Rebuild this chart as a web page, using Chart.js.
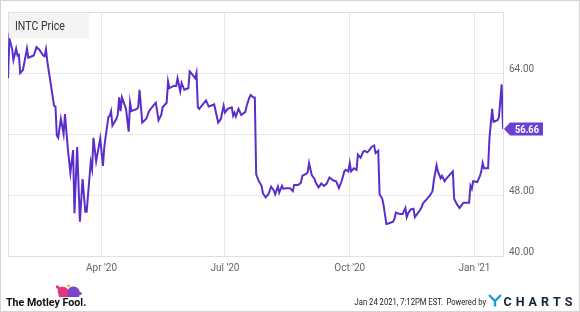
<!DOCTYPE html>
<html>
<head>
<meta charset="utf-8">
<script src="https://cdn.jsdelivr.net/npm/chart.js@4.4.0/dist/chart.umd.min.js"></script>
<style>
  html, body { margin: 0; padding: 0; background: #fff; }
  canvas { display: block; }
</style>
</head>
<body>
<canvas id="priceChart" width="580" height="312" style="width:580px;height:312px"></canvas>
<script>
// INTC closing price, days counted from 2020-01-22
const seriesName = 'INTC Price';
const days = [1, 2, 4, 5, 7, 8, 9, 10, 12, 15, 16, 20, 22, 24, 27, 28, 29, 30, 33, 35,
  36, 37, 38, 40, 42, 43, 45, 47, 49, 50, 52, 54, 56, 58, 59, 62, 63, 64, 66, 69,
  71, 72, 75, 76, 77, 78, 81, 82, 83, 84, 85, 88, 90, 91, 92, 96, 97, 98, 100, 103,
  105, 108, 110, 112, 114, 115, 118, 119, 120, 123, 125, 126, 128, 129, 131, 134, 135, 136, 139, 140,
  141, 142, 147, 149, 152, 153, 156, 158, 160, 161, 163, 166, 167, 168, 169, 171, 173, 176, 177, 179,
  180, 182, 183, 184, 186, 188, 189, 191, 193, 195, 197, 198, 200, 201, 203, 204, 206, 209, 211, 212,
  215, 217, 218, 221, 222, 223, 225, 227, 228, 230, 232, 234, 236, 238, 241, 243, 245, 247, 249, 250,
  252, 253, 254, 256, 258, 259, 261, 263, 264, 266, 268, 269, 271, 272, 274, 275, 277, 278, 280, 282,
  285, 286, 287, 290, 292, 294, 295, 296, 298, 300, 301, 303, 304, 306, 307, 309, 312, 314, 315, 317,
  318, 320, 321, 323, 324, 326, 328, 329, 330, 332, 334, 336, 337, 341, 342, 343, 344, 347, 349, 350,
  351, 352, 355, 356, 358, 359, 362, 363, 365, 366];
const prices = [63.3, 68.5, 67.2, 65.7, 67.2, 66.3, 66.4, 64.0, 64.4, 67.2, 66.0, 66.3, 67.4, 67.1, 66.3, 66.2, 67.1, 65.5, 62.0, 59.7,
  59.6, 55.8, 55.5, 58.0, 56.0, 58.6, 54.3, 50.9, 53.9, 45.6, 54.3, 44.5, 50.1, 45.8, 45.8, 52.3, 51.4, 55.5, 52.4, 55.4,
  51.8, 54.3, 58.2, 58.4, 59.0, 57.1, 58.0, 58.6, 60.8, 59.0, 60.8, 59.3, 56.3, 60.1, 59.0, 59.3, 59.5, 61.8, 57.5, 58.0,
  59.0, 59.7, 60.1, 57.8, 58.5, 59.5, 60.1, 62.9, 62.0, 62.3, 62.3, 63.3, 61.6, 62.7, 61.8, 62.0, 64.2, 64.0, 63.3, 64.0,
  59.5, 59.3, 60.4, 59.6, 59.8, 59.9, 57.5, 58.0, 59.7, 58.8, 59.3, 59.5, 58.4, 58.8, 58.3, 59.3, 58.5, 58.9, 59.7, 60.8,
  61.1, 60.8, 60.8, 50.7, 49.8, 49.2, 48.2, 47.7, 48.1, 49.1, 48.6, 48.1, 49.1, 48.3, 49.2, 48.8, 48.9, 48.9, 48.5, 49.3,
  49.3, 49.6, 50.5, 50.8, 51.0, 52.2, 50.6, 50.1, 49.6, 49.0, 49.5, 49.2, 49.5, 50.3, 49.9, 49.8, 48.9, 49.8, 51.1, 51.3,
  51.1, 52.2, 51.1, 51.5, 51.3, 53.3, 52.9, 53.7, 53.8, 53.6, 54.0, 54.3, 54.5, 53.5, 53.8, 48.1, 47.5, 46.6, 44.2, 44.3,
  44.5, 44.9, 45.7, 45.5, 45.5, 46.3, 45.1, 45.6, 46.1, 46.2, 45.1, 45.6, 45.8, 46.4, 46.9, 47.3, 47.9, 48.5, 49.9, 51.9,
  51.1, 50.2, 50.5, 49.8, 50.1, 50.5, 50.9, 51.1, 47.5, 46.8, 46.3, 46.8, 47.0, 47.0, 49.2, 48.8, 49.8, 49.7, 50.5, 51.1,
  52.2, 51.5, 51.5, 55.4, 59.3, 57.6, 57.8, 58.2, 62.5, 56.66];

const tickDays = [70, 161, 253, 345];
const tickLabels = ["Apr '20", "Jul '20", "Oct '20", "Jan '21"];
const yTicks = [40, 48, 56, 64, 72];
const yLabelsShown = [40, 48, 64];
const stampText = 'Jan 24 2021, 7:12PM EST.';

const fontFamily = "Roboto, 'Liberation Sans', sans-serif";
const lineColor = '#5b2ecc';
const tagColor = '#6a3fd2';
const gridColor = '#e8e8e8';

// draws text squeezed horizontally, like the narrow face in the original
function narrowText(ctx, text, x, y, font, squeeze, align) {
  ctx.save();
  ctx.font = font;
  ctx.textAlign = align || 'left';
  ctx.translate(x, y);
  ctx.scale(squeeze, 1);
  ctx.fillText(text, 0, 0);
  ctx.restore();
}

// background, outer border, plot frame, title box, price tag and footer
const decorations = {
  id: 'decorations',
  beforeDraw(chart) {
    const ctx = chart.ctx;
    ctx.save();
    ctx.fillStyle = '#fff';
    ctx.fillRect(0, 0, chart.width, chart.height);
    ctx.strokeStyle = '#d4d4d4';
    ctx.lineWidth = 1;
    ctx.strokeRect(0.5, 0.5, chart.width - 1, chart.height - 1);
    ctx.restore();
  },
  beforeDatasetsDraw(chart) {
    const { ctx, chartArea: a } = chart;
    ctx.save();
    ctx.strokeStyle = '#e0e0e0';
    ctx.lineWidth = 1;
    ctx.strokeRect(Math.round(a.left) + 0.5, Math.round(a.top) + 0.5, a.right - a.left, a.bottom - a.top);
    ctx.restore();
  },
  afterDraw(chart) {
    const { ctx, chartArea: a } = chart;
    ctx.save();

    // title box
    ctx.fillStyle = '#f4f4f4';
    ctx.fillRect(a.left + 1, a.top + 1, 80, 25);
    ctx.fillStyle = '#333';
    ctx.textBaseline = 'alphabetic';
    narrowText(ctx, seriesName, a.left + 7, a.top + 18, '12px ' + fontFamily, 0.88);

    // last price tag
    const last = prices[prices.length - 1];
    const y = chart.scales.y.getPixelForValue(last);
    const x = a.right + 1;
    ctx.fillStyle = tagColor;
    ctx.beginPath();
    ctx.moveTo(x, y);
    ctx.lineTo(x + 6, y - 6.5);
    ctx.lineTo(x + 39, y - 6.5);
    ctx.lineTo(x + 39, y + 6.5);
    ctx.lineTo(x + 6, y + 6.5);
    ctx.closePath();
    ctx.fill();
    ctx.fillStyle = '#fff';
    narrowText(ctx, last.toFixed(2), x + 23, y + 4, 'bold 11px ' + fontFamily, 0.85, 'center');

    // footer left: Motley Fool
    ctx.fillStyle = '#111';
    narrowText(ctx, 'The Motley Fool.', 6, 306, 'bold 11px ' + fontFamily, 0.97);
    ctx.fillStyle = '#e6357f';
    ctx.beginPath();
    ctx.moveTo(59, 297); ctx.quadraticCurveTo(57, 290, 58, 287.5);
    ctx.quadraticCurveTo(66, 285, 69, 291); ctx.lineTo(69, 297); ctx.closePath();
    ctx.fill();
    ctx.beginPath(); ctx.arc(57.5, 287, 1.7, 0, Math.PI * 2); ctx.fill();
    ctx.fillStyle = '#7c45cc';
    ctx.beginPath();
    ctx.moveTo(68, 297); ctx.lineTo(68, 290); ctx.quadraticCurveTo(70, 285, 76, 287);
    ctx.quadraticCurveTo(80, 289, 80, 294); ctx.lineTo(79, 297); ctx.closePath();
    ctx.fill();
    ctx.beginPath(); ctx.arc(80, 293.5, 1.7, 0, Math.PI * 2); ctx.fill();
    ctx.fillStyle = '#f2a81d';
    ctx.beginPath(); ctx.arc(68.5, 285.8, 1.4, 0, Math.PI * 2); ctx.fill();

    // footer right: time stamp and YCharts
    ctx.fillStyle = '#222';
    narrowText(ctx, stampText, 443, 305, '9px ' + fontFamily, 0.85, 'right');
    narrowText(ctx, 'Powered by', 486, 305, '9px ' + fontFamily, 0.85, 'right');

    ctx.strokeStyle = '#1b9ddc';
    ctx.lineWidth = 2.4;
    ctx.beginPath();
    ctx.moveTo(489, 295); ctx.lineTo(495, 301); ctx.lineTo(501, 295);
    ctx.moveTo(495, 301); ctx.lineTo(495, 306.5);
    ctx.stroke();

    ctx.fillStyle = '#15223d';
    ctx.font = 'bold 12.5px ' + fontFamily;
    ctx.textAlign = 'left';
    const word = 'CHARTS';
    const widths = [...word].map(c => ctx.measureText(c).width);
    const total = widths.reduce((s, w) => s + w, 0);
    const gap = (69 - total) / (word.length - 1);
    let cx = 503.5;
    [...word].forEach((c, i) => { ctx.fillText(c, cx, 306); cx += widths[i] + gap; });

    ctx.restore();
  }
};

new Chart('priceChart', {
  type: 'line',
  data: {
    datasets: [{
      label: seriesName,
      data: days.map((d, i) => ({ x: d, y: prices[i] })),
      borderColor: lineColor,
      borderWidth: 2,
      pointRadius: 0,
      tension: 0,
      fill: false
    }]
  },
  plugins: [decorations],
  options: {
    responsive: false,
    animation: false,
    layout: { padding: { left: 8, top: 8, right: 0, bottom: 0 } },
    plugins: { legend: { display: false }, tooltip: { enabled: false } },
    scales: {
      x: {
        type: 'linear',
        min: 1,
        max: 366,
        afterBuildTicks: s => { s.ticks = tickDays.map(v => ({ value: v })); },
        afterFit: s => { s.height = 56; },
        ticks: {
          autoSkip: false,
          maxRotation: 0,
          padding: 6,
          color: '#666',
          font: { family: fontFamily, size: 10 },
          callback: v => tickLabels[tickDays.indexOf(v)] ?? ''
        },
        grid: { color: gridColor, drawTicks: false },
        border: { display: true, color: '#d0d0d0' }
      },
      y: {
        position: 'right',
        min: 40,
        max: 72,
        afterBuildTicks: s => { s.ticks = yTicks.map(v => ({ value: v })); },
        afterFit: s => { s.width = 77; },
        ticks: {
          padding: 6,
          labelOffset: -4,
          color: '#666',
          font: { family: fontFamily, size: 10 },
          callback: v => yLabelsShown.includes(v) ? v.toFixed(2) : ''
        },
        grid: { color: gridColor, drawTicks: false },
        border: { display: false }
      }
    }
  }
});
</script>
</body>
</html>
